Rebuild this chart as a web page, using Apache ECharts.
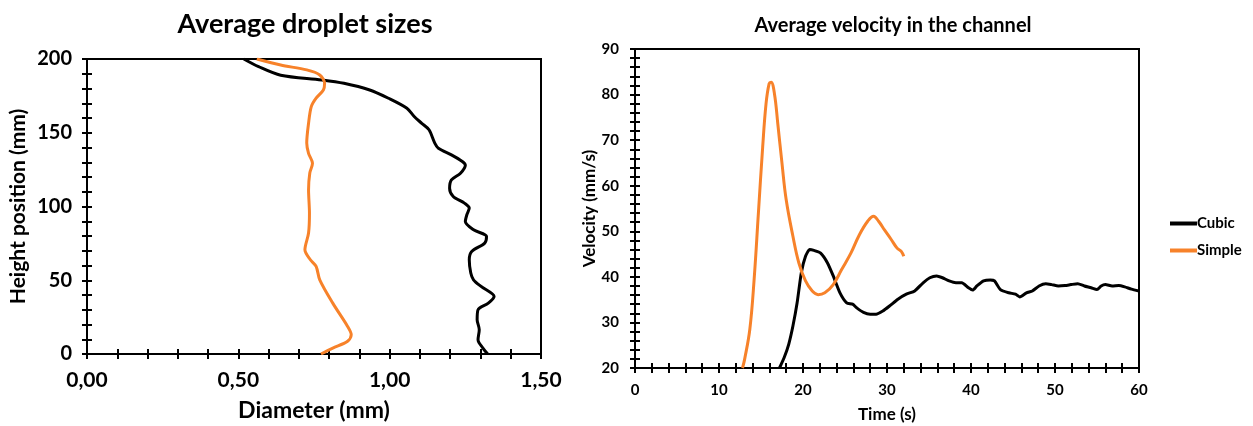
<!DOCTYPE html>
<html>
<head>
<meta charset="utf-8">
<script src="https://cdn.jsdelivr.net/npm/echarts@6/dist/echarts.min.js"></script>
<style>
html,body{margin:0;padding:0;background:#fff;}
#c{width:1253px;height:426px;}
</style>
</head>
<body>
<div id="c"></div>
<script>
// Left chart: Average droplet sizes  [diameter (mm), height (mm)]
const dropletCubic = [
  [0.518,200],[0.567,194.8],[0.640,189],[0.775,185.8],[0.849,183.5],[0.934,179],[0.996,173.4],
  [1.057,166.6],[1.081,161],[1.106,156.4],[1.130,152],[1.149,143],[1.161,139.5],[1.204,135],
  [1.240,130.5],[1.250,128],[1.234,122.6],[1.204,118],[1.198,112.4],[1.210,106.8],[1.247,102.3],
  [1.263,98.9],[1.255,94.4],[1.250,89.8],[1.277,84.2],[1.320,79.7],[1.314,75.2],[1.271,69.5],
  [1.263,63.9],[1.268,54.9],[1.277,50.3],[1.302,45.8],[1.345,39],[1.326,34.5],[1.292,30],
  [1.289,23.3],[1.296,16.5],[1.292,9.7],[1.308,4],[1.324,0]
];
const dropletSimple = [
  [0.561,200],[0.640,195.9],[0.726,192.6],[0.769,189.2],[0.785,183.5],[0.781,179],[0.757,173.4],
  [0.741,167.7],[0.732,156.4],[0.726,143],[0.732,136],[0.745,129.3],[0.736,122.6],[0.732,111.3],
  [0.735,95.5],[0.732,82],[0.720,70.7],[0.738,63.9],[0.757,59.4],[0.769,50.3],[0.812,34.5],
  [0.861,18.7],[0.873,13.1],[0.861,8.6],[0.812,4],[0.773,0]
];
// Right chart: Average velocity in the channel  [time (s), velocity (mm/s)]
const velocityCubic = [
  [17.2,20],[17.76,22.3],[18.3,25.2],[18.8,29.2],[19.3,34.3],[19.8,40.9],[20.3,44.5],[20.8,46],
  [21.3,45.8],[22.1,45.2],[22.9,43.1],[23.6,40.2],[24.4,36.5],[25.2,34.3],[25.9,34],[26.4,33.2],
  [27.2,32.2],[28.0,31.8],[28.7,31.8],[29.5,32.5],[30.3,33.6],[31.3,35.1],[32.3,36.2],[33.3,36.9],
  [34.3,38.7],[35.1,39.8],[35.9,40.2],[36.6,39.8],[37.4,39.1],[38.2,38.7],[38.9,38.7],[39.7,37.6],
  [40.2,37.1],[40.7,38.0],[41.5,39.1],[42.3,39.3],[42.8,39.1],[43.5,37.2],[44.5,36.5],[45.3,36.2],
  [45.8,35.6],[46.6,36.5],[47.3,36.9],[48.1,38.0],[48.9,38.5],[49.6,38.3],[50.4,38.0],[51.2,38.1],
  [51.9,38.3],[52.7,38.5],[53.5,38.0],[54.3,37.6],[55.0,37.2],[55.5,38.0],[56.0,38.3],[56.8,38.0],
  [57.6,38.1],[58.3,37.8],[59.1,37.3],[60,36.9]
];
const velocitySimple = [
  [12.8,20],[13.06,22],[13.67,28.5],[14.18,39.4],[14.69,54],[15.2,68.5],[15.6,78],[15.97,82.4],
  [16.2,82.7],[16.6,80.2],[17.0,73.6],[17.5,64.9],[18.0,56.9],[18.8,48.9],[19.5,43.1],[20.3,39.1],
  [21.1,36.9],[21.8,36.1],[22.6,36.5],[23.6,38.3],[24.6,41.6],[25.7,45.2],[26.7,49.2],[27.7,52.2],
  [28.4,53.3],[29.0,52.2],[29.7,50.3],[30.5,48.2],[31.2,46.3],[31.7,45.6],[32.0,44.5]
];
const seriesNames = ['Cubic','Simple'];
const titles = ['Average droplet sizes','Average velocity in the channel'];
const axisNames = ['Diameter (mm)','Height position (mm)','Time (s)','Velocity (mm/s)'];

const FONT = 'Lato, "Open Sans", sans-serif';
const BLACK = '#000000';
const ORANGE = '#F7822A';

function axisPair(dim, gridIndex, cfg, labelFont, labelMargin, fmt, name, nameGap, nameFont) {
  const base = {
    type: 'value', gridIndex: gridIndex, min: cfg.min, max: cfg.max, interval: cfg.interval,
    position: dim === 'x' ? 'bottom' : 'left',
    splitLine: {show: false},
    axisLine: {show: true, onZero: false, lineStyle: {color: BLACK, width: 2}},
    minorTick: {show: true, splitNumber: cfg.minor, length: 5, lineStyle: {color: BLACK, width: 2}},
    minorSplitLine: {show: false}
  };
  const a = Object.assign({}, base, {
    axisTick: {show: true, inside: false, length: 5, lineStyle: {color: BLACK, width: 2}},
    axisLabel: {show: true, margin: labelMargin, color: BLACK, fontFamily: FONT, fontWeight: 'bold', fontSize: labelFont,
      formatter: fmt, showMinLabel: true, showMaxLabel: true},
    name: name, nameLocation: 'middle', nameGap: nameGap,
    nameTextStyle: {color: BLACK, fontFamily: FONT, fontWeight: 'bold', fontSize: nameFont}
  });
  const b = Object.assign({}, base, {
    axisTick: {show: true, inside: true, length: 5, lineStyle: {color: BLACK, width: 2}},
    axisLabel: {show: false}
  });
  return [a, b];
}

const xL = axisPair('x', 0, {min:0,max:1.5,interval:0.5,minor:5}, 21, 16,
  v => v.toFixed(2).replace('.', ','), axisNames[0], 45, 23);
const yL = axisPair('y', 0, {min:0,max:200,interval:50,minor:5}, 20, 15,
  v => String(v), axisNames[1], 58, 21);
const xR = axisPair('x', 1, {min:0,max:60,interval:10,minor:5}, 15, 15,
  v => String(v), axisNames[2], 38, 17);
const yR = axisPair('y', 1, {min:20,max:90,interval:10,minor:5}, 15, 16,
  v => String(v), axisNames[3], 36, 17);

const chart = echarts.init(document.getElementById('c'), null, {renderer: 'canvas'});
chart.setOption({
  animation: false,
  backgroundColor: '#ffffff',
  title: [
    {text: titles[0], left: 300, top: 6, textAlign: 'center',
     textStyle: {fontFamily: FONT, fontWeight: 'bold', fontSize: 27, color: BLACK}},
    {text: titles[1], left: 888, top: 11, textAlign: 'center',
     textStyle: {fontFamily: FONT, fontWeight: 'bold', fontSize: 20, color: BLACK}}
  ],
  legend: {
    orient: 'vertical', left: 1165, top: 211, itemWidth: 27, itemHeight: 4, itemGap: 12,
    icon: 'rect',
    data: seriesNames,
    textStyle: {fontFamily: FONT, fontWeight: 'bold', fontSize: 15, color: BLACK, padding: [0,0,0,-5]}
  },
  grid: [
    {left: 87, top: 59, width: 454, height: 295, show: true, borderColor: BLACK, borderWidth: 2,
     containLabel: false, outerBoundsMode: 'none'},
    {left: 635, top: 49, width: 504, height: 319, show: true, borderColor: BLACK, borderWidth: 2,
     containLabel: false, outerBoundsMode: 'none'}
  ],
  xAxis: [xL[0], xL[1], xR[0], xR[1]],
  yAxis: [yL[0], yL[1], yR[0], yR[1]],
  series: [
    {name: seriesNames[0], type: 'line', xAxisIndex: 0, yAxisIndex: 0, data: dropletCubic,
     showSymbol: false, smooth: 0.3, lineStyle: {color: BLACK, width: 3}, itemStyle: {color: BLACK}},
    {name: seriesNames[1], type: 'line', xAxisIndex: 0, yAxisIndex: 0, data: dropletSimple,
     showSymbol: false, smooth: 0.3, lineStyle: {color: ORANGE, width: 3}, itemStyle: {color: ORANGE}},
    {name: seriesNames[0], type: 'line', xAxisIndex: 2, yAxisIndex: 2, data: velocityCubic,
     showSymbol: false, smooth: 0.2, lineStyle: {color: BLACK, width: 3}, itemStyle: {color: BLACK}},
    {name: seriesNames[1], type: 'line', xAxisIndex: 2, yAxisIndex: 2, data: velocitySimple,
     showSymbol: false, smooth: 0.4, lineStyle: {color: ORANGE, width: 3}, itemStyle: {color: ORANGE}}
  ]
});
</script>
</body>
</html>
